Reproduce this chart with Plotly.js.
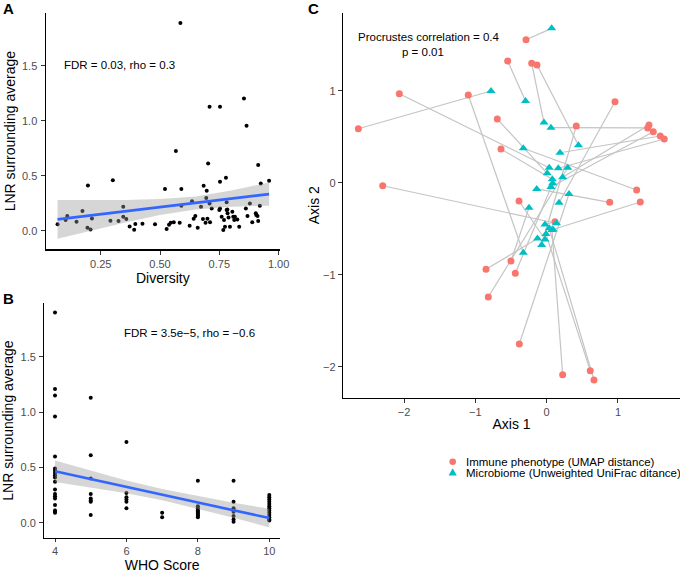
<!DOCTYPE html>
<html><head><meta charset="utf-8">
<script src="https://cdn.plot.ly/plotly-3.0.1.min.js"></script>
<style>html,body{margin:0;padding:0;background:#fff}</style>
</head><body><div id="chart" style="width:680px;height:573px"></div>
<script>
// ---- Panel A: Diversity vs LNR ----
const diversity = [0.068,0.102,0.109,0.148,0.173,0.194,0.196,0.207,0.213,0.291,0.301,0.325,0.345,0.345,0.358,0.372,0.391,0.396,0.426,0.479,0.521,0.528,0.538,0.545,0.558,0.567,0.583,0.586,0.590,0.590,0.625,0.635,0.642,0.649,0.659,0.673,0.684,0.681,0.692,0.695,0.697,0.700,0.703,0.709,0.709,0.711,0.718,0.753,0.753,0.750,0.753,0.760,0.767,0.770,0.774,0.778,0.781,0.781,0.784,0.785,0.789,0.795,0.805,0.809,0.813,0.816,0.826,0.834,0.854,0.862,0.865,0.869,0.879,0.889,0.904,0.906,0.911,0.914,0.914,0.921,0.925,0.960];
const lnrA = [0.058,0.097,0.133,0.082,0.179,0.027,0.412,0.012,0.112,0.091,0.458,0.088,0.218,0.127,0.106,0.039,0.009,0.061,0.064,0.058,0.379,0.015,0.055,0.073,0.076,0.724,0.073,1.888,0.379,0.227,0.045,0.267,0.109,0.133,0.027,0.218,0.409,0.106,0.073,0.297,0.364,0.109,0.612,1.127,0.248,0.076,0.203,0.445,1.127,0.188,0.203,0.127,0.006,0.097,0.036,0.482,0.258,0.188,0.194,0.158,0.121,0.036,0.173,0.127,0.097,0.127,0.103,0.036,1.203,0.203,0.955,0.133,0.248,0.076,0.158,0.142,0.133,0.597,0.088,0.227,0.430,0.455];
const fitAX = [0.068,0.2,0.35,0.5,0.65,0.8,0.96];
const fitAY = [0.103,0.137,0.176,0.215,0.253,0.292,0.333];
const upperA = [0.279,0.278,0.280,0.288,0.312,0.365,0.439];
const lowerA = [-0.073,-0.004,0.072,0.142,0.194,0.219,0.227];

// ---- Panel B: WHO score vs LNR ----
const whoScore = [4,4,4,4,4,4,4,4,4,4,4,4,4,4,4,4,4,4,4,
  5,5,5,5,5,5,5,5,
  6,6,6,6,6,6,
  7,7,
  8,8,8,8,8,8,8,8,8,8,
  9,9,9,9,9,9,9,9,
  10,10,10,10,10,10,10,10,10,10,10,10,10];
const lnrB = [1.90,1.21,1.15,0.96,0.60,0.49,0.47,0.45,0.43,0.41,0.37,0.30,0.26,0.24,0.22,0.16,0.11,0.10,0.09,
  1.13,0.61,0.40,0.26,0.22,0.20,0.19,0.07,
  0.73,0.27,0.23,0.21,0.19,0.13,
  0.09,0.05,
  0.38,0.15,0.13,0.11,0.10,0.09,0.08,0.07,0.06,0.05,
  0.38,0.19,0.13,0.11,0.10,0.06,0.03,0.01,
  0.25,0.23,0.21,0.19,0.17,0.15,0.13,0.11,0.09,0.07,0.05,0.03,0.02];
const fitBX = [4,5,6,7,8,9,10];
const fitBY = [0.465,0.395,0.324,0.254,0.183,0.113,0.042];
const upperB = [0.562,0.470,0.382,0.304,0.241,0.181,0.127];
const lowerB = [0.368,0.320,0.266,0.204,0.125,0.045,-0.043];

// ---- Panel C: Procrustes (paired points) ----
const immuneX = [-0.290,-0.547,-0.210,-0.136,-2.067,-1.100,0.958,-0.693,0.415,1.435,1.417,1.495,1.593,1.649,-2.642,-0.641,-2.300,1.262,-0.388,0.884,1.313,0.116,-0.501,-0.851,-0.440,-0.819,-0.384,0.224,0.611,0.663];
const immuneY = [1.554,1.323,1.298,1.279,0.967,0.953,0.880,0.692,0.616,0.627,0.595,0.554,0.508,0.475,0.587,0.366,-0.033,-0.079,-0.199,-0.213,-0.210,-0.424,-0.851,-0.941,-0.985,-1.242,-1.753,-2.087,-2.043,-2.145];
const microbeX = [0.070,-0.297,-0.038,0.446,0.036,-0.328,0.173,0.008,-0.070,0.224,0.060,0.060,0.187,0.163,-0.781,0.079,0.137,-0.328,-0.024,-0.140,0.088,-0.024,-0.248,-0.129,0.084,0.295,0.313,0.074,-0.010,0.036];
const microbeY = [1.678,0.888,0.654,0.407,0.163,-0.761,-0.217,0.102,-0.677,0.059,0.598,-0.047,0.326,0.157,0.997,0.037,-0.441,0.374,-0.617,-0.068,-0.509,-0.454,-0.272,-0.607,-0.007,0.163,-0.123,-0.514,-0.558,-0.496];

const FONT = 'Liberation Sans, Arial, Helvetica, sans-serif';
const segX = [], segY = [];
for (let i = 0; i < immuneX.length; i++) {
  segX.push(immuneX[i], microbeX[i], null);
  segY.push(immuneY[i], microbeY[i], null);
}
const bandPoly = (xs, up, lo) => ({x: xs.concat(xs.slice().reverse()), y: up.concat(lo.slice().reverse())});
const bA = bandPoly(fitAX, upperA, lowerA);
const bB = bandPoly(fitBX, upperB, lowerB);

const traces = [
  {x: diversity, y: lnrA, type: 'scatter', mode: 'markers', marker: {color: '#000', size: 4}, xaxis: 'x', yaxis: 'y', showlegend: false, hoverinfo: 'x+y'},
  {x: bA.x, y: bA.y, type: 'scatter', mode: 'lines', fill: 'toself', fillcolor: 'rgba(153,153,153,0.4)', line: {width: 0}, xaxis: 'x', yaxis: 'y', showlegend: false, hoverinfo: 'skip'},
  {x: fitAX, y: fitAY, type: 'scatter', mode: 'lines', line: {color: '#3366FF', width: 2.6}, xaxis: 'x', yaxis: 'y', showlegend: false},
  {x: whoScore, y: lnrB, type: 'scatter', mode: 'markers', marker: {color: '#000', size: 4}, xaxis: 'x2', yaxis: 'y2', showlegend: false},
  {x: bB.x, y: bB.y, type: 'scatter', mode: 'lines', fill: 'toself', fillcolor: 'rgba(153,153,153,0.4)', line: {width: 0}, xaxis: 'x2', yaxis: 'y2', showlegend: false, hoverinfo: 'skip'},
  {x: fitBX, y: fitBY, type: 'scatter', mode: 'lines', line: {color: '#3366FF', width: 2.6}, xaxis: 'x2', yaxis: 'y2', showlegend: false},
  {x: segX, y: segY, type: 'scatter', mode: 'lines', line: {color: '#c4c4c4', width: 1.2}, xaxis: 'x3', yaxis: 'y3', showlegend: false, hoverinfo: 'skip', connectgaps: false},
  {x: immuneX, y: immuneY, type: 'scatter', mode: 'markers', name: 'Immune phenotype (UMAP distance)', marker: {color: '#F8766D', size: 7, symbol: 'circle'}, xaxis: 'x3', yaxis: 'y3', showlegend: false},
  {x: microbeX, y: microbeY, type: 'scatter', mode: 'markers', name: 'Microbiome (Unweighted UniFrac ditance)', marker: {color: '#00BFC4', size: 8, symbol: 'triangle-up'}, xaxis: 'x3', yaxis: 'y3', showlegend: false}
];

const W = 680, H = 573;
const px = v => v / W, py = v => 1 - v / H;
const axBase = {
  showline: true, linecolor: '#000', linewidth: 1.2, mirror: false,
  showgrid: false, zeroline: false,
  ticks: 'outside', ticklen: 4, tickwidth: 1, tickcolor: '#333',
  tickfont: {family: FONT, size: 11, color: '#4d4d4d'},
  fixedrange: true
};
const titleFont = {family: FONT, size: 14, color: '#000'};

const layout = {
  width: W, height: H,
  margin: {l: 0, r: 0, t: 0, b: 0},
  paper_bgcolor: '#fff', plot_bgcolor: '#fff',
  font: {family: FONT},
  showlegend: false,
  xaxis: Object.assign({}, axBase, {domain: [px(45.7), px(280)], range: [0.018, 1.006], tickvals: [0.25, 0.5, 0.75, 1.0], ticktext: ['0.25','0.50','0.75','1.00'], anchor: 'y',
    title: {text: 'Diversity', font: titleFont, standoff: 3}}),
  yaxis: Object.assign({}, axBase, {domain: [py(249.3), py(13)], range: [-0.169, 1.98], tickvals: [0, 0.5, 1, 1.5], ticktext: ['0.0','0.5','1.0','1.5'], anchor: 'x', ticklabelstandoff: 1,
    title: {text: 'LNR surrounding average', font: titleFont, standoff: 3}}),
  xaxis2: Object.assign({}, axBase, {domain: [px(44.3), px(280)], range: [3.7, 10.3], tickvals: [4, 6, 8, 10], anchor: 'y2', ticklen: 3,
    title: {text: 'WHO Score', font: titleFont, standoff: 3}}),
  yaxis2: Object.assign({}, axBase, {domain: [py(538), py(303)], range: [-0.138, 1.987], tickvals: [0, 0.5, 1, 1.5], ticktext: ['0.0','0.5','1.0','1.5'], anchor: 'x2', ticklabelstandoff: 1,
    title: {text: 'LNR surrounding average', font: titleFont, standoff: 3}}),
  xaxis3: Object.assign({}, axBase, {domain: [px(343), 1], range: [-2.857, 1.870], tickvals: [-2, -1, 0, 1], anchor: 'y3',
    title: {text: 'Axis 1', font: titleFont, standoff: 2}}),
  yaxis3: Object.assign({}, axBase, {domain: [py(397.7), py(12.7)], range: [-2.337, 1.848], tickvals: [-2, -1, 0, 1], anchor: 'x3', ticklabelstandoff: 0,
    title: {text: 'Axis 2', font: titleFont, standoff: 0}}),
  annotations: [
    {text: '<b>A</b>', xref: 'paper', yref: 'paper', x: px(0.5), y: py(9), xanchor: 'left', yanchor: 'middle', showarrow: false, font: {family: FONT, size: 15, color: '#000'}},
    {text: '<b>B</b>', xref: 'paper', yref: 'paper', x: px(0.5), y: py(298), xanchor: 'left', yanchor: 'middle', showarrow: false, font: {family: FONT, size: 15, color: '#000'}},
    {text: '<b>C</b>', xref: 'paper', yref: 'paper', x: px(305.5), y: py(9), xanchor: 'left', yanchor: 'middle', showarrow: false, font: {family: FONT, size: 15, color: '#000'}},
    {text: 'FDR = 0.03, rho = 0.3', xref: 'paper', yref: 'paper', x: px(62), y: py(65), xanchor: 'left', yanchor: 'middle', showarrow: false, font: {family: FONT, size: 11.5, color: '#000'}},
    {text: 'FDR = 3.5e\u22125, rho = \u22120.6', xref: 'paper', yref: 'paper', x: px(189), y: py(333), xanchor: 'center', yanchor: 'middle', showarrow: false, font: {family: FONT, size: 11.5, color: '#000'}},
    {text: 'Procrustes correlation = 0.4', xref: 'paper', yref: 'paper', x: px(429.2), y: py(36.7), xanchor: 'center', yanchor: 'middle', showarrow: false, font: {family: FONT, size: 11.5, color: '#000'}},
    {text: 'p = 0.01', xref: 'paper', yref: 'paper', x: px(422.5), y: py(52), xanchor: 'center', yanchor: 'middle', showarrow: false, font: {family: FONT, size: 11.5, color: '#000'}},
    {text: 'Immune phenotype (UMAP distance)', xref: 'paper', yref: 'paper', x: px(463.5), y: py(461.7), xanchor: 'left', yanchor: 'middle', showarrow: false, font: {family: FONT, size: 11.5, color: '#000'}},
    {text: 'Microbiome (Unweighted UniFrac ditance)', xref: 'paper', yref: 'paper', x: px(463.5), y: py(472.7), xanchor: 'left', yanchor: 'middle', showarrow: false, font: {family: FONT, size: 11.5, color: '#000'}}
  ],
  shapes: [
    {type: 'circle', xref: 'paper', yref: 'paper', x0: px(449.4), x1: px(456), y0: py(465), y1: py(458.4), fillcolor: '#F8766D', line: {width: 0}},
    {type: 'path', xref: 'paper', yref: 'paper', path: 'M ' + px(452.7) + ' ' + py(468.3) + ' L ' + px(448.6) + ' ' + py(475.6) + ' L ' + px(456.8) + ' ' + py(475.6) + ' Z', fillcolor: '#00BFC4', line: {width: 0}}
  ]
};

Plotly.newPlot('chart', traces, layout, {staticPlot: true, displayModeBar: false});
</script>
</body></html>
